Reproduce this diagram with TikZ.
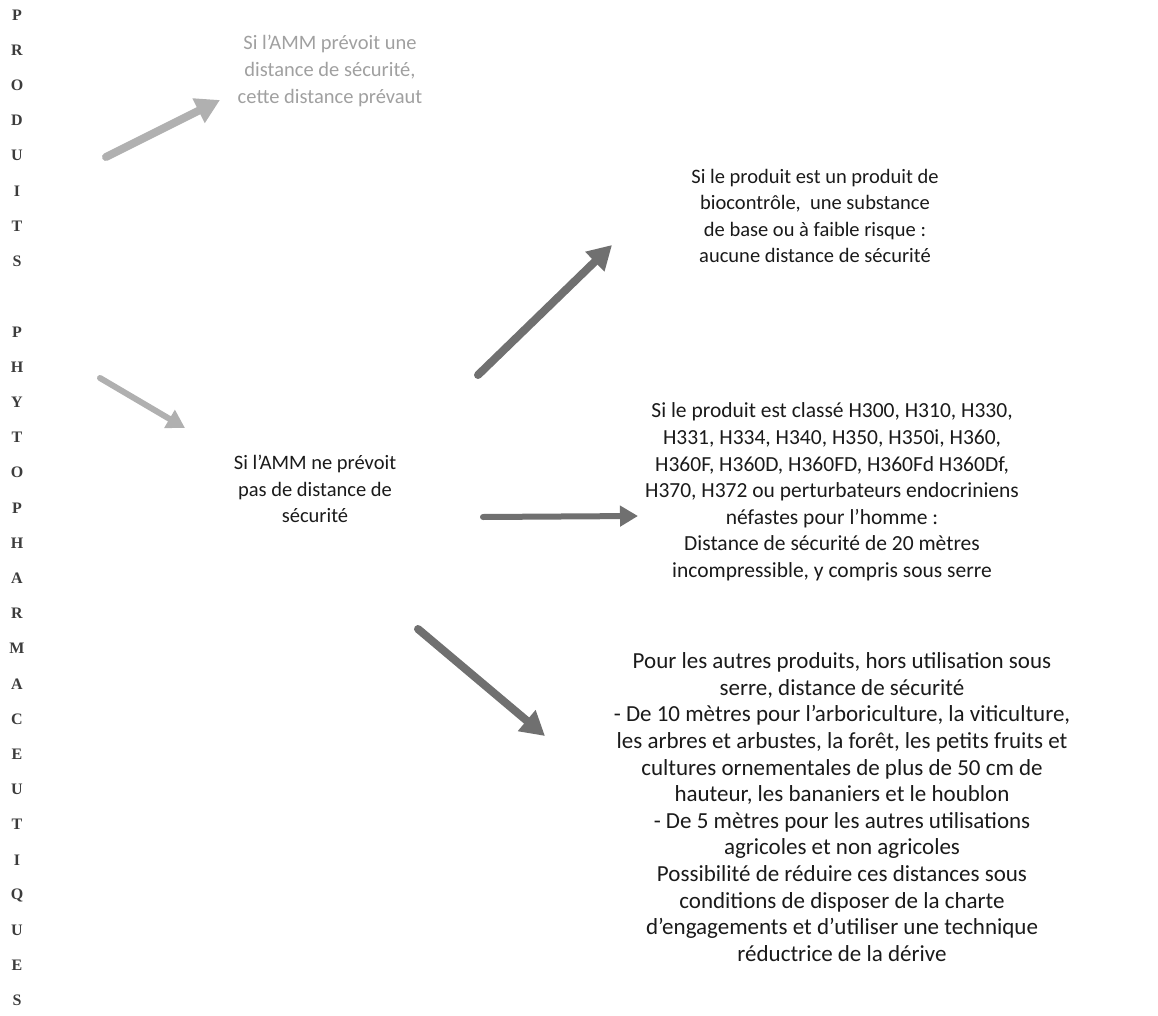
\documentclass[tikz,border=0pt]{standalone}
\usepackage{fontspec}
\setmainfont{Carlito}
\newfontfamily\titlefont{Liberation Serif}
\usetikzlibrary{arrows.meta}
\definecolor{lightg}{HTML}{A0A0A0}
\definecolor{lightarr}{HTML}{B0B0B0}
\definecolor{darkarr}{HTML}{707070}
\definecolor{ink}{HTML}{1A1A1A}
\begin{document}
\begin{tikzpicture}[x=1pt,y=-1pt,
  txt/.style={align=center, font=\fontsize{20.5}{26.6}\selectfont, text=ink, inner sep=0pt},
  greytxt/.style={txt, text=lightg},
  letter/.style={font=\titlefont\bfseries\fontsize{16}{16}\selectfont, text=ink!85, inner sep=0pt},
  bigarrow/.style={line width=8pt, line cap=round, -{Triangle[length=24pt,width=26pt]}},
  midarrow/.style={line width=6pt, line cap=round, -{Triangle[length=18pt,width=20pt]}}]
\useasboundingbox (0,0) rectangle (1158,1016);
% vertical title
\foreach \c [count=\i] in {P,R,O,D,U,I,T,S,{},P,H,Y,T,O,P,H,A,R,M,A,C,E,U,T,I,Q,U,E,S}
  \node[letter] (l\i) at (17, {15 + (\i-1)*35.2}) {\c};
% texts
\node[greytxt] (amm1) at (330,71) {Si l’AMM prévoit une\\distance de sécurité,\\cette distance prévaut};
\node[txt] (amm2) at (315,489) {Si l’AMM ne prévoit\\pas de distance de\\sécurité};
\node[txt] (bio) at (815,216) {Si le produit est un produit de\\biocontrôle,~ une substance\\de base ou à faible risque :\\aucune distance de sécurité};
\node[txt, font=\fontsize{21.5}{26.6}\selectfont] (haz) at (832,492) {Si le produit est classé H300, H310, H330,\\H331, H334, H340, H350, H350i, H360,\\H360F, H360D, H360FD, H360Fd H360Df,\\H370, H372 ou perturbateurs endocriniens\\néfastes pour l’homme :\\Distance de sécurité de 20 mètres\\incompressible, y compris sous serre};
\node[txt, font=\fontsize{23}{26.6}\selectfont] (autres) at (842,807) {Pour les autres produits, hors utilisation sous\\serre, distance de sécurité\\- De 10 mètres pour l'arboriculture, la viticulture,\\les arbres et arbustes, la forêt, les petits fruits et\\cultures ornementales de plus de 50 cm de\\hauteur, les bananiers et le houblon\\- De 5 mètres pour les autres utilisations\\agricoles et non agricoles\\Possibilité de réduire ces distances sous\\conditions de disposer de la charte\\d’engagements et d’utiliser une technique\\réductrice de la dérive};
% arrow end points
\coordinate (a1s) at (106,157); \coordinate (a1e) at (220,100);
\coordinate (a2s) at (100,378); \coordinate (a2e) at (185,428);
\coordinate (a3s) at (478,375); \coordinate (a3e) at (612,245);
\coordinate (a4s) at (483,517); \coordinate (a4e) at (638,516);
\coordinate (a5s) at (418,629); \coordinate (a5e) at (545,736);
\draw[bigarrow, lightarr] (a1s) -- (a1e);
\draw[midarrow, lightarr] (a2s) -- (a2e);
\draw[bigarrow, darkarr] (a3s) -- (a3e);
\draw[midarrow, darkarr] (a4s) -- (a4e);
\draw[bigarrow, darkarr] (a5s) -- (a5e);
\end{tikzpicture}
\end{document}
